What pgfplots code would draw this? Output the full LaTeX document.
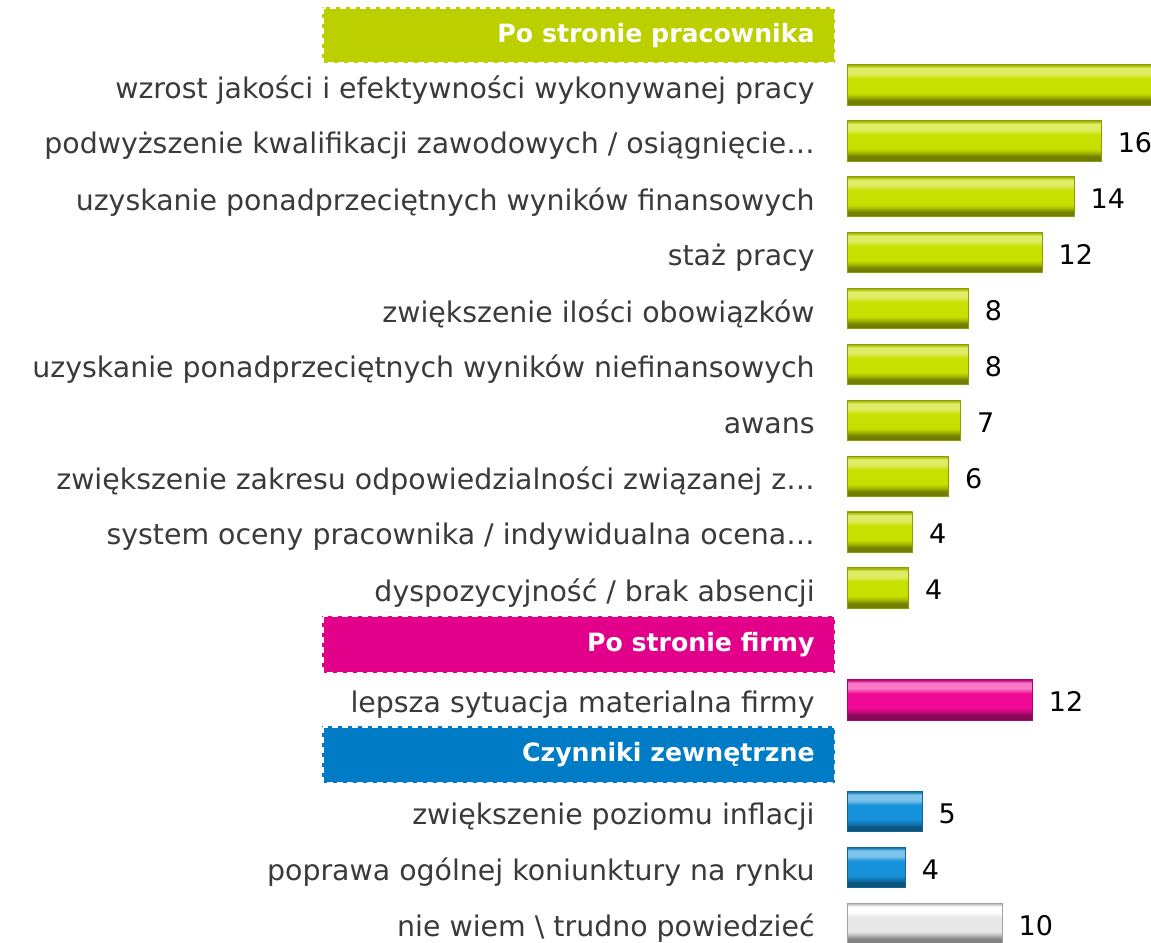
\documentclass[border=0pt]{standalone}
\usepackage{pgfplots}
\pgfplotsset{compat=1.18}
\usepackage{fontspec}
\setmainfont{DejaVu Sans}

\definecolor{hgreen}{HTML}{BCD000}
\definecolor{hpink}{HTML}{E2008A}
\definecolor{hblue}{HTML}{007BC6}
\definecolor{bgreen}{HTML}{C8E000}
\definecolor{bpink}{HTML}{F00A96}
\definecolor{bblue}{HTML}{1592DA}
\definecolor{bgrey}{HTML}{E8E8E8}
\definecolor{labgray}{HTML}{3A3A3A}

\newcommand\lab{\fontsize{14.2}{17}\selectfont}
\newcommand\num{\fontsize{13.5}{16}\selectfont}
\newcommand\hdr{\fontsize{12.6}{15}\selectfont\bfseries}

% bevelled bar face: light band at the top, dark band at the bottom
\newcommand\bevshade[3]{%
  \pgfdeclareverticalshading{bev#1}{100bp}{%
    color(0bp)=(#2!85!black); color(25bp)=(#2!85!black);
    color(26bp)=(#2!55!black); color(31bp)=(#2!58!black);
    color(35bp)=(#2!80!black); color(40bp)=(#2);
    color(58bp)=(#2); color(64bp)=(#3); color(71bp)=(#3);
    color(74.5bp)=(#2!80!black); color(100bp)=(#2!80!black)}}
\bevshade{green}{bgreen}{bgreen!60!white}
\bevshade{pink}{bpink}{bpink!55!white}
\bevshade{blue}{bblue}{bblue!55!white}
\bevshade{grey}{bgrey}{white}

\tikzset{
  bevel/.style={draw=b#1!70!black, line width=0.4pt, shade, shading=bev#1},
  hdash/.style={draw=white, line width=0.9pt, dash pattern=on 3pt off 2pt},
  htext/.style={anchor=east, text=white, font=\hdr, inner sep=0pt},
}
% one bar = one plot, so that each bar gets its own shading
\newcommand\bbar[4]{\addplot[bevel=#1] coordinates {(#2,#3) [#4]};}

\begin{document}
\begin{tikzpicture}
\begin{axis}[
    xbar,
    x=8pt, y=27.95pt,
    y dir=reverse,
    xmin=0, xmax=19.0,
    ymin=-0.519, ymax=16.35,
    clip=false,
    axis line style={draw=none},
    xtick=\empty,
    major tick length=0pt,
    ytick={1,2,3,4,5,6,7,8,9,10,12,14,15,16},
    yticklabels={
      {wzrost jakości i efektywności wykonywanej pracy},
      {podwyższenie kwalifikacji zawodowych / osiągnięcie…},
      {uzyskanie ponadprzeciętnych wyników finansowych},
      {staż pracy},
      {zwiększenie ilości obowiązków },
      {uzyskanie ponadprzeciętnych wyników niefinansowych},
      {awans},
      {zwiększenie zakresu odpowiedzialności związanej z…},
      {system oceny pracownika / indywidualna ocena…},
      {dyspozycyjność / brak absencji},
      {lepsza sytuacja materialna firmy},
      {zwiększenie poziomu inflacji},
      {poprawa ogólnej koniunktury na rynku},
      {nie wiem \textbackslash{} trudno powiedzieć}
    },
    yticklabel style={font=\lab, text=labgray, inner sep=0pt, xshift=-16pt, yshift=-2.5pt},
    bar width=0.72,
    bar shift=0pt,
    point meta=explicit symbolic,
    nodes near coords={\pgfplotspointmeta},
    nodes near coords align=horizontal,
    every node near coord/.append style={font=\num, text=black, inner sep=0pt,
      anchor=west, xshift=8pt, yshift=-1pt},
]
% top bar runs past the right edge, its value label is cut off
\addplot[bevel=green, nodes near coords=] coordinates {(20,1) []};
\bbar{green}{15.9}{2}{16}
\bbar{green}{14.2}{3}{14}
\bbar{green}{12.2}{4}{12}
\bbar{green}{7.6}{5}{8}
\bbar{green}{7.6}{6}{8}
\bbar{green}{7.1}{7}{7}
\bbar{green}{6.35}{8}{6}
\bbar{green}{4.1}{9}{4}
\bbar{green}{3.85}{10}{4}
\bbar{pink}{11.6}{12}{12}
\bbar{blue}{4.7}{14}{5}
\bbar{blue}{3.65}{15}{4}
\bbar{grey}{9.7}{16}{10}

% group headers
\fill[hgreen] (axis cs:-32.8,-0.39) rectangle (axis cs:-0.72,0.61);
\draw[hdash] (axis cs:-32.75,-0.38) rectangle (axis cs:-0.77,0.60);
\node[htext] at (axis cs:-2.0,0.11) {Po stronie pracownika};

\fill[hpink] (axis cs:-32.8,10.50) rectangle (axis cs:-0.72,11.52);
\draw[hdash] (axis cs:-32.75,10.51) rectangle (axis cs:-0.77,11.51);
\node[htext] at (axis cs:-2.0,11.01) {Po stronie firmy};

\fill[hblue] (axis cs:-32.8,12.47) rectangle (axis cs:-0.72,13.49);
\draw[hdash] (axis cs:-32.75,12.48) rectangle (axis cs:-0.77,13.48);
\node[htext] at (axis cs:-2.0,12.98) {Czynniki zewnętrzne};

\coordinate (bbTL) at (axis cs:-52.94,-0.519);
\coordinate (bbBR) at (axis cs:19.0,16.35);
\end{axis}
\pgfresetboundingbox
\path[use as bounding box] (bbTL) rectangle (bbBR);
\end{tikzpicture}
\end{document}
